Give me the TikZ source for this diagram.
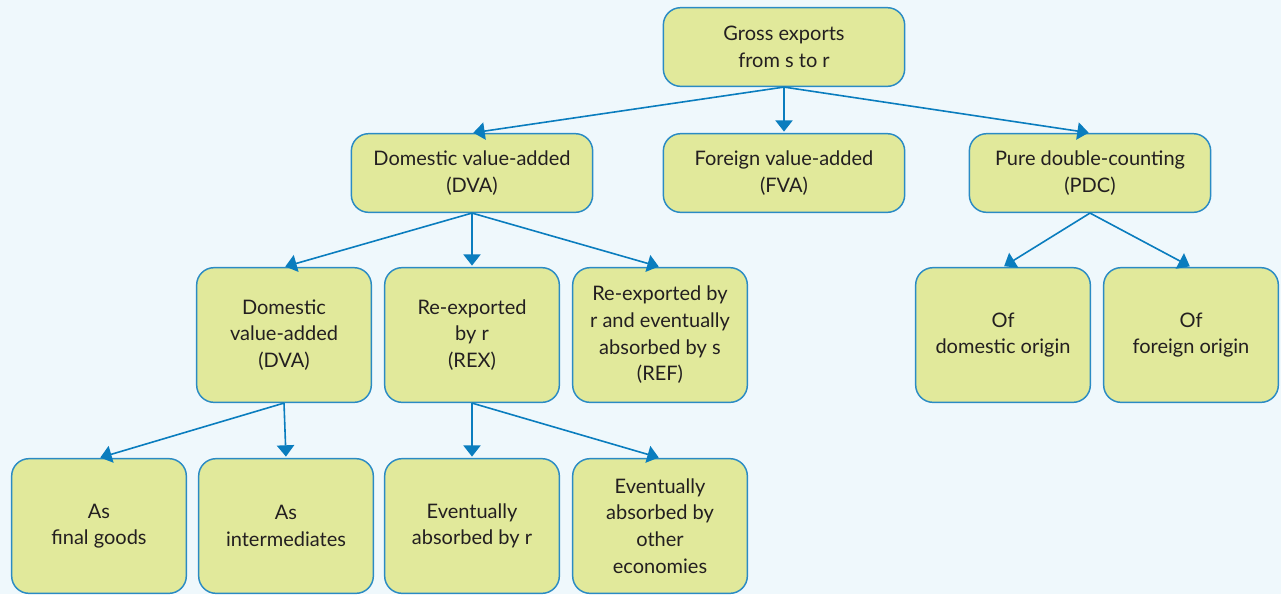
\documentclass[tikz,border=0pt]{standalone}
\usepackage{fontspec}
\setmainfont{Lato}
\usepackage{xcolor}
\usetikzlibrary{arrows.meta}

\definecolor{boxfill}{HTML}{E1E99B}
\definecolor{boxline}{HTML}{2A8BC4}
\definecolor{linkblue}{HTML}{0A7DBE}
\definecolor{pagebg}{HTML}{EFF8FC}
\definecolor{boxtext}{HTML}{231F20}

\begin{document}
\begin{tikzpicture}[x=0.75pt,y=-0.75pt,
        box/.style={draw=boxline,line width=1.1pt,fill=boxfill,rounded corners=13pt,
                align=center,text=boxtext,inner sep=2pt,
                font=\fontsize{15}{20}\selectfont},
        wide/.style={box,minimum width=181pt,minimum height=59pt},
        tall/.style={box,minimum width=131pt,minimum height=101pt},
        link/.style={draw=linkblue,line width=1.2pt,shorten >=1pt,
                -{Triangle[width=13pt,length=8.5pt]}}]
        \fill[pagebg] (0,0) rectangle (1281,594);
        \useasboundingbox (0,0) rectangle (1281,594);

        % top and second row
        \node[wide] (gross) at (784,47) {Gross exports\\from s to r};
        \node[wide] (dva) at (472,173) {Domestic value-added\\(DVA)};
        \node[wide] (fva) at (784,173) {Foreign value-added\\(FVA)};
        \node[wide] (pdc) at (1090,173) {Pure double-counting\\(PDC)};

        % third row
        \node[tall] (dvasub) at (284,335) {Domestic\\value-added\\(DVA)};
        \node[tall] (rex) at (472,335) {Re-exported\\by r\\(REX)};
        \node[tall] (ref) at (660,335) {Re-exported by\\r and eventually\\absorbed by s\\(REF)};
        \node[tall] (domorig) at (1003,335) {Of\\domestic origin};
        \node[tall] (fororig) at (1191,335) {Of\\foreign origin};

        % bottom row
        \node[tall] (final) at (99,526) {As\\final goods};
        \node[tall] (inter) at (286,526) {As\\intermediates};
        \node[tall] (absr) at (472,526) {Eventually\\absorbed by r};
        \node[tall] (absother) at (660,526) {Eventually\\absorbed by\\other\\economies};

        % links
        \foreach \child in {dva,fva,pdc}
            \draw[link] (gross.south) -- (\child.north);
        \foreach \child in {dvasub,rex,ref}
            \draw[link] (dva.south) -- (\child.north);
        \foreach \child in {domorig,fororig}
            \draw[link] (pdc.south) -- (\child.north);
        \foreach \child in {final,inter}
            \draw[link] (dvasub.south) -- (\child.north);
        \foreach \child in {absr,absother}
            \draw[link] (rex.south) -- (\child.north);
\end{tikzpicture}
\end{document}
